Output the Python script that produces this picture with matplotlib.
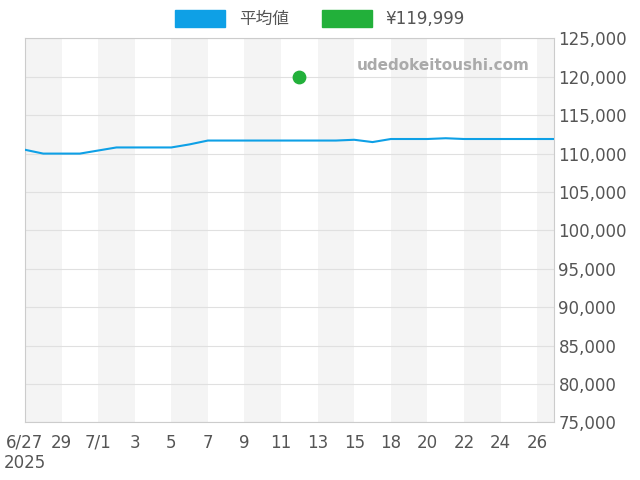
import matplotlib
matplotlib.use("Agg")
import matplotlib.pyplot as plt
import numpy as np
from matplotlib.patches import Patch

plt.rcParams['font.family'] = ['DejaVu Sans', 'Noto Sans CJK JP']

dates = ["6/27", "6/28", "6/29", "6/30", "7/1", "7/2", "7/3", "7/4", "7/5", "7/6",
         "7/7", "7/8", "7/9", "7/10", "7/11", "7/12", "7/13", "7/14", "7/15", "7/17",
         "7/18", "7/19", "7/20", "7/21", "7/22", "7/23", "7/24", "7/25", "7/26", "7/27"]
avg_values = [110500, 110000, 110000, 110000, 110400, 110800, 110800, 110800, 110800, 111200,
              111700, 111700, 111700, 111700, 111700, 111700, 111700, 111700, 111800, 111500,
              111900, 111900, 111900, 112000, 111900, 111900, 111900, 111900, 111900, 111900]
pt_dates = ["7/12"]
pt_values = [119999]

fig = plt.figure(figsize=(6.4, 4.8), dpi=100)
ax = fig.add_axes([0.039, 0.12, 0.826, 0.80])

n = len(dates)
xend = n - 1.1
for i in range(0, n, 4):
    ax.axvspan(i, min(i + 2, xend), color='#f4f4f4', zorder=0, lw=0)

x = np.arange(n)
ax.plot(x, avg_values, color='#0ea0e6', lw=1.5, zorder=3)
ax.scatter([dates.index(d) for d in pt_dates], pt_values, color='#22b03a', s=80, zorder=4)

ax.set_xlim(0, xend)
ax.set_ylim(75000, 125000)
ax.yaxis.tick_right()
ax.set_yticks(np.arange(75000, 125001, 5000))
ax.yaxis.set_major_formatter(matplotlib.ticker.FuncFormatter(lambda v, p: f"{int(v):,}"))
ax.grid(axis='y', color='#e0e0e0', lw=0.8)
ticks = list(range(0, n - 1, 2))
labels = []
for i in ticks:
    d = dates[i]
    if i == 0:
        labels.append("6/27\n2025")
    elif d.endswith("/1"):
        labels.append(d)
    else:
        labels.append(d.split("/")[1])
ax.set_xticks(ticks)
ax.set_xticklabels(labels)
ax.tick_params(axis='both', labelsize=12, colors='#555555', length=0)
ax.tick_params(axis='x', pad=8)
for s in ax.spines.values():
    s.set_color('#cccccc')

ax.text(0.955, 0.93, "udedokeitoushi.com", transform=ax.transAxes, ha='right', va='center',
        fontsize=11, fontweight='bold', color='#aaaaaa')

h = [Patch(color='#0ea0e6'), Patch(color='#22b03a')]
fig.legend(h, ['平均値', '¥119,999'], loc='upper center', bbox_to_anchor=(0.5, 1.01), ncol=2,
           frameon=False, handlelength=3, handleheight=1.2, labelcolor='#555555',
           prop={'family': ['DejaVu Sans', 'Noto Sans CJK JP'], 'size': 12})

fig.savefig("out.png", dpi=100)
